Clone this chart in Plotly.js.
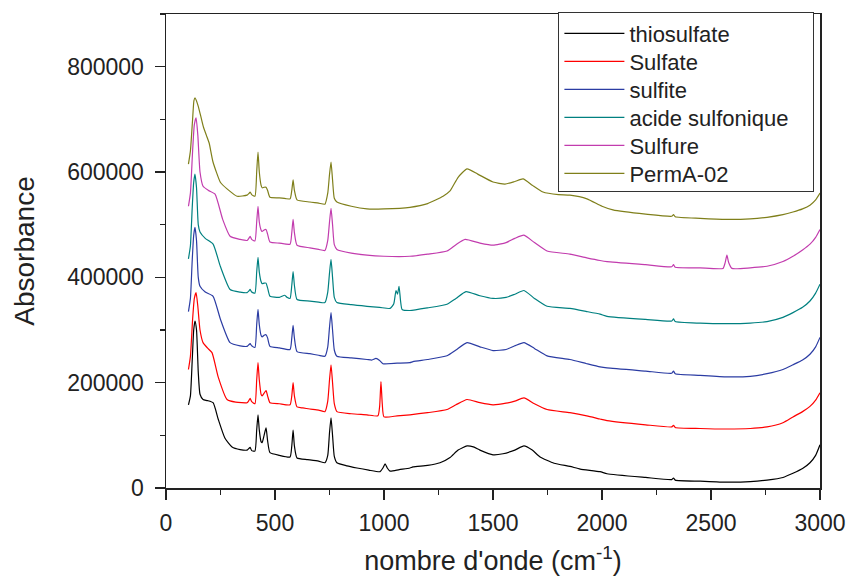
<!DOCTYPE html>
<html><head><meta charset="utf-8">
<script src="https://cdn.plot.ly/plotly-3.0.1.min.js"></script>
<style>html,body{margin:0;padding:0;background:#fff}#chart{width:849px;height:578px}</style>
</head><body><div id="chart"></div>
<script>
const seriesNames = ["thiosulfate", "Sulfate", "sulfite", "acide sulfonique", "Sulfure", "PermA-02"];
const seriesColors = ["#000000", "#ff0000", "#2b3ca3", "#008080", "#c23cae", "#7f7f1a"];

const thioX = [103,112,120,127,133,140,148,156,170,190,216,240,270,303,340,372,380,386,393,408,416,422,428,436,441,450,459,466,477,520,569,577,583,589,601,650,700,729,742,750,757,764,772,784,830,876,930,982,995,1005,1015,1028,1070,1119,1133,1200,1257,1303,1340,1381,1410,1440,1500,1546,1600,1642,1680,1716,1780,1853,1900,1991,2023,2200,2320,2328,2336,2450,2573,2680,2757,2830,2876,2920,2954,2980,3000];
const thioY = [158000,175000,240000,300000,317000,300000,220000,178000,168000,166000,162000,130000,95000,78000,73000,72000,75000,77000,71000,70000,110000,139000,110000,88000,86000,100000,114000,90000,67000,62000,59000,80000,110000,80000,57000,54000,51000,48000,62000,105000,133000,100000,60000,48000,42000,38000,34000,31000,38000,46000,38000,32000,35000,38000,40000,43000,48000,58000,72000,80000,78000,72000,63000,65000,72000,80000,72000,59000,47000,41000,36000,31000,27000,20000,16000,19000,15000,13000,11000,12000,15000,20000,28000,37000,48000,62000,82000];

const sulfateX = [103,112,122,130,138,146,156,170,190,211,240,280,320,372,380,386,393,408,416,422,428,436,441,450,459,466,477,520,569,577,583,589,601,628,660,700,729,742,750,757,764,772,784,850,922,972,980,986,992,1000,1060,1119,1200,1289,1330,1381,1440,1500,1560,1600,1642,1690,1748,1853,1930,1991,2023,2200,2320,2328,2336,2450,2573,2680,2757,2830,2876,2920,2954,2980,3000];
const sulfateY = [225000,250000,320000,360000,371000,345000,300000,276000,266000,257000,210000,168000,163000,162000,166000,170000,164000,160000,205000,238000,205000,178000,175000,180000,185000,175000,162000,160000,158000,175000,200000,175000,154000,152000,150000,148000,145000,165000,205000,234000,200000,160000,145000,141000,139000,137000,155000,202000,160000,135000,137000,139000,143000,149000,158000,168000,162000,158000,161000,165000,171000,160000,149000,143000,137000,131000,128000,120000,116000,119000,115000,113000,112000,113000,116000,124000,135000,145000,155000,167000,181000];

const sulfiteX = [103,112,120,127,133,140,148,156,180,216,250,294,340,372,380,386,393,408,416,422,428,436,441,450,459,466,477,520,569,577,583,589,601,660,700,729,742,750,757,764,772,784,850,922,945,963,980,995,1060,1119,1133,1200,1289,1330,1381,1440,1500,1560,1600,1642,1690,1748,1853,1930,1991,2023,2200,2320,2328,2336,2450,2573,2680,2757,2830,2876,2920,2954,2980,3000];
const sulfiteY = [335000,360000,430000,480000,495000,470000,400000,383000,372000,364000,320000,276000,270000,269000,272000,274000,270000,267000,310000,339000,310000,290000,287000,290000,291000,285000,269000,266000,263000,285000,309000,285000,259000,255000,252000,250000,268000,305000,333000,300000,262000,250000,247000,244000,243000,246000,242000,236000,237000,238000,240000,244000,251000,262000,276000,268000,261000,263000,270000,276000,265000,251000,244000,236000,230000,228000,222000,218000,222000,217000,214000,211000,212000,217000,225000,234000,243000,254000,268000,286000];

const sulfoX = [103,112,120,127,133,140,148,156,180,216,250,294,340,372,380,386,393,408,416,422,428,436,441,450,459,466,477,520,545,555,569,577,583,589,601,660,700,729,742,750,757,764,772,784,850,922,980,1028,1045,1055,1062,1069,1076,1083,1119,1200,1289,1330,1376,1440,1500,1560,1600,1642,1690,1748,1853,1930,1991,2023,2200,2320,2328,2336,2450,2573,2680,2757,2830,2876,2920,2954,2980,3000];
const sulfoY = [435000,460000,530000,580000,596000,570000,500000,486000,474000,463000,420000,377000,372000,371000,374000,377000,372000,370000,410000,438000,410000,392000,388000,389000,389000,380000,364000,362000,366000,362000,360000,385000,411000,385000,358000,355000,353000,352000,372000,408000,434000,400000,362000,352000,348000,345000,343000,341000,350000,375000,368000,383000,355000,339000,337000,342000,349000,360000,373000,365000,360000,362000,368000,375000,360000,345000,341000,335000,330000,326000,320000,317000,321000,316000,313000,312000,313000,316000,324000,333000,343000,355000,370000,387000];

const sulfureX = [103,112,122,130,138,146,156,170,195,225,260,294,340,372,380,386,393,408,416,422,428,436,441,450,459,466,477,520,569,577,583,589,601,660,700,729,742,750,757,764,772,784,850,922,1000,1119,1200,1289,1330,1372,1440,1500,1560,1600,1642,1690,1748,1853,1930,1991,2023,2200,2320,2328,2336,2450,2555,2565,2573,2581,2596,2680,2757,2830,2876,2920,2954,2980,3000];
const sulfureY = [535000,560000,640000,690000,703000,670000,600000,573000,565000,558000,510000,478000,472000,470000,474000,478000,472000,469000,505000,535000,505000,490000,487000,490000,491000,482000,467000,465000,463000,485000,510000,485000,461000,456000,453000,451000,470000,505000,531000,500000,462000,453000,446000,442000,440000,440000,444000,450000,462000,472000,465000,461000,466000,474000,480000,466000,450000,444000,437000,432000,430000,424000,420000,424000,419000,418000,417000,428000,442000,428000,417000,418000,421000,430000,440000,452000,463000,476000,491000];

const permX = [103,112,122,128,133,140,147,160,172,185,198,215,250,280,326,372,380,386,393,408,416,422,428,436,441,450,459,466,477,520,569,577,583,589,601,660,700,729,742,750,757,764,772,784,850,922,1000,1119,1200,1271,1303,1340,1381,1430,1500,1555,1600,1638,1680,1729,1800,1853,1931,2000,2050,2200,2320,2328,2336,2450,2573,2680,2757,2830,2876,2920,2954,2980,3000];
const permY = [615000,640000,700000,735000,741000,735000,726000,705000,685000,670000,655000,620000,580000,568000,554000,556000,559000,562000,557000,554000,600000,638000,600000,575000,570000,571000,571000,565000,552000,551000,549000,565000,585000,565000,547000,543000,541000,539000,560000,595000,619000,585000,550000,543000,535000,530000,530000,533000,540000,554000,564000,590000,606000,596000,581000,577000,582000,587000,575000,562000,557000,556000,549000,535000,528000,520000,516000,519000,515000,512000,510000,511000,514000,519000,524000,530000,537000,547000,560000];

const xTickVals = [0, 500, 1000, 1500, 2000, 2500, 3000];
const yTickVals = [0, 200000, 400000, 600000, 800000];

const allX = [thioX, sulfateX, sulfiteX, sulfoX, sulfureX, permX];
const allY = [thioY, sulfateY, sulfiteY, sulfoY, sulfureY, permY];

const traces = seriesNames.map((n, i) => ({
  type: 'scatter', mode: 'lines', name: n,
  x: allX[i], y: allY[i],
  line: {color: seriesColors[i], width: 1.2, shape: 'spline', smoothing: 0.5}
}));

const fontFam = '"Liberation Sans", Arial, sans-serif';
const layout = {
  width: 849, height: 578,
  margin: {l: 166, r: 29, t: 14, b: 90},
  paper_bgcolor: '#fff', plot_bgcolor: '#fff',
  font: {family: fontFam, color: '#222'},
  showlegend: true,
  legend: {
    x: 0.6, xanchor: 'left', y: 1.005, yanchor: 'top',
    bgcolor: '#fff', bordercolor: '#333', borderwidth: 1,
    font: {family: fontFam, size: 22, color: '#222'},
    itemwidth: 60, tracegroupgap: 0
  },
  xaxis: {
    range: [0, 3000], tickvals: xTickVals, ticktext: xTickVals.map(String),
    showgrid: false, zeroline: false, showline: true, linecolor: '#222', linewidth: 1.5, mirror: true,
    ticks: 'outside', ticklen: 10, tickwidth: 1.3, tickcolor: '#222',
    minor: {dtick: 250, tick0: 0, ticks: 'outside', ticklen: 5, tickwidth: 1.2, tickcolor: '#222', showgrid: false},
    tickfont: {family: fontFam, size: 23, color: '#222'},
    ticklabelstandoff: 4,
    title: {text: "nombre d'onde (cm<sup>-1</sup>)", font: {family: fontFam, size: 27, color: '#222'}, standoff: 16}
  },
  yaxis: {
    range: [0, 900000], tickvals: yTickVals, ticktext: yTickVals.map(String),
    showgrid: false, zeroline: false, showline: true, linecolor: '#222', linewidth: 1.5, mirror: true,
    ticks: 'outside', ticklen: 10, tickwidth: 1.3, tickcolor: '#222',
    minor: {dtick: 100000, tick0: 0, ticks: 'outside', ticklen: 5, tickwidth: 1.2, tickcolor: '#222', showgrid: false},
    tickfont: {family: fontFam, size: 23, color: '#222'},
    ticklabelstandoff: 6,
    title: {text: 'Absorbance', font: {family: fontFam, size: 28, color: '#222'}, standoff: 24}
  }
};

const LEGEND_ROW = 28;
const LEGEND_WIDTH = 255;
Plotly.newPlot('chart', traces, layout, {displayModeBar: false, staticPlot: true}).then(gd => {
  const items = gd.querySelectorAll('.legend .traces');
  if (items.length < 2) return;
  const parse = t => {
    const m = /translate\(\s*([-\d.e]+)(?:[ ,]\s*([-\d.e]+))?\s*\)/.exec(t || '');
    return m ? [parseFloat(m[1]), m[2] !== undefined ? parseFloat(m[2]) : 0] : [0, 0];
  };
  const p0 = parse(items[0].getAttribute('transform'));
  const p1 = parse(items[1].getAttribute('transform'));
  const oldRow = p1[1] - p0[1];
  const bg = gd.querySelector('.legend rect.bg');
  if (bg) {
    const w = parseFloat(bg.getAttribute('width'));
    if (w < LEGEND_WIDTH) bg.setAttribute('width', LEGEND_WIDTH);
  }
  if (!(oldRow > LEGEND_ROW)) return;
  items.forEach((it, i) => it.setAttribute('transform', `translate(${p0[0]},${p0[1] + i * LEGEND_ROW})`));
  const shrink = (items.length - 1) * (oldRow - LEGEND_ROW) + 4;
  if (bg) bg.setAttribute('height', parseFloat(bg.getAttribute('height')) - shrink);
});
</script></body></html>
